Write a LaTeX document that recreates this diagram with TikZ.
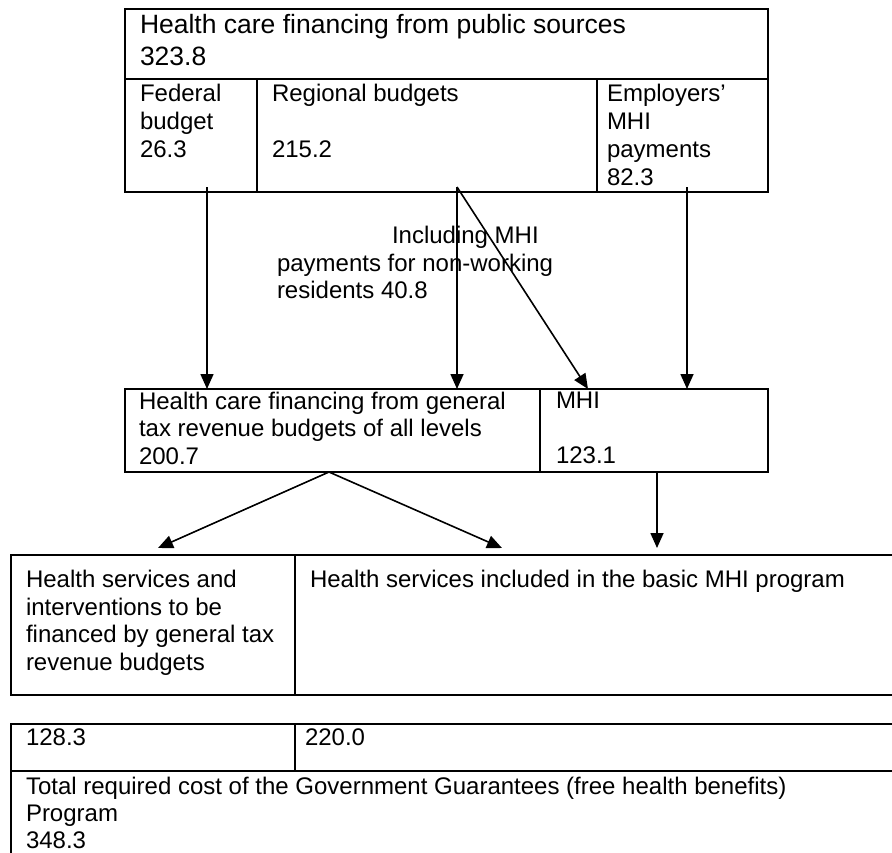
\documentclass[tikz,border=0pt]{standalone}
\usepackage{fontspec}
\setmainfont{Liberation Sans}
\usepackage{tikz}
\usetikzlibrary{arrows.meta, positioning, calc}
\tikzset{
  cell/.style={draw, line width=2.2pt, rectangle, inner sep=0pt, outer sep=0pt,
    anchor=north west},
  txt/.style={inner sep=0pt, outer sep=0pt, anchor=north west, align=left,
    font=\fontsize{24pt}{27.8pt}\selectfont},
  headtxt/.style={txt, font=\fontsize{26.5pt}{32pt}\selectfont},
  arrow/.style={-{Triangle[length=15pt, width=13pt]}, line width=1.6pt}
}

\begin{document}
\begin{tikzpicture}[x=1pt, y=-1pt]
    \useasboundingbox (0,0) rectangle (892,852);
    \clip (0,0) rectangle (892,852);
    \node[cell, minimum width=643pt, minimum height=70pt,
      label={[headtxt, xshift=15pt, yshift=-5pt]north west:{Health care financing from public sources\\323.8}}] (src) at (125,9) {};
    \node[cell, minimum width=132pt, minimum height=113pt,
      label={[txt, xshift=15pt, yshift=-5.3pt]north west:{Federal\\budget\\26.3}}] (fed) at (125,79) {};
    \node[cell, minimum width=340pt, minimum height=113pt,
      label={[txt, xshift=15pt, yshift=-5.3pt]north west:{Regional budgets\\\mbox{}\\215.2}}] (reg) at (257,79) {};
    \node[cell, minimum width=171pt, minimum height=113pt,
      label={[txt, xshift=10pt, yshift=-5.3pt]north west:{Employers'\\MHI\\payments\\82.3}}] (emp) at (597,79) {};
    \node[txt] (incl) at (277,226) {\hspace*{115pt}Including MHI\\payments for non-working\\residents 40.8};
    \node[cell, minimum width=415pt, minimum height=83pt,
      label={[txt, xshift=14pt, yshift=-2.8pt]north west:{Health care financing from general\\tax revenue budgets of all levels\\200.7}}] (gen) at (125,389) {};
    \node[cell, minimum width=228pt, minimum height=83pt,
      label={[txt, xshift=16pt, yshift=-2.8pt]north west:{MHI\\\mbox{}\\123.1}}] (mhi) at (540,389) {};
    \node[cell, minimum width=284pt, minimum height=140pt,
      label={[txt, xshift=15pt, yshift=-14.8pt]north west:{Health services and\\interventions to be\\financed by general tax\\revenue budgets}}] (taxsvc) at (11,555) {};
    \node[cell, minimum width=610pt, minimum height=140pt,
      label={[txt, xshift=15pt, yshift=-14.8pt]north west:{Health services included in the basic MHI program}}] (basic) at (295,555) {};
    \node[cell, minimum width=284pt, minimum height=47pt,
      label={[txt, xshift=15pt, yshift=-5pt]north west:{128.3}}] (costa) at (11,724) {};
    \node[cell, minimum width=610pt, minimum height=47pt,
      label={[txt, xshift=10pt, yshift=-5pt]north west:{220.0}}] (costb) at (295,724) {};
    \node[cell, minimum width=894pt, minimum height=100pt,
      label={[txt, xshift=15pt, yshift=-6pt, font=\fontsize{24pt}{27pt}\selectfont]north west:{Total required cost of the Government Guarantees (free health benefits)\\Program\\348.3}}] (total) at (11,771) {};
    \draw[arrow] ([xshift=16pt, yshift=5pt]fed.south) -- ([xshift=16pt]fed.south |- gen.north);
    \draw[arrow] ([xshift=30pt, yshift=5pt]reg.south) -- ([xshift=30pt]reg.south |- gen.north);
    \draw[arrow] ([xshift=30pt, yshift=5pt]reg.south) -- ([xshift=-66pt]mhi.north);
    \draw[arrow] ([xshift=4.5pt, yshift=5pt]emp.south) -- ([xshift=4.5pt]emp.south |- mhi.north);
    \draw[arrow] ([xshift=-3.5pt]gen.south) -- ([xshift=5pt, yshift=7pt]taxsvc.north);
    \draw[arrow] ([xshift=-3.5pt]gen.south) -- ([xshift=-98pt, yshift=7pt]basic.north);
    \draw[arrow] ([xshift=3pt]mhi.south) -- ([xshift=3pt, yshift=7pt]mhi.south |- basic.north);
  \end{tikzpicture}
\end{document}
